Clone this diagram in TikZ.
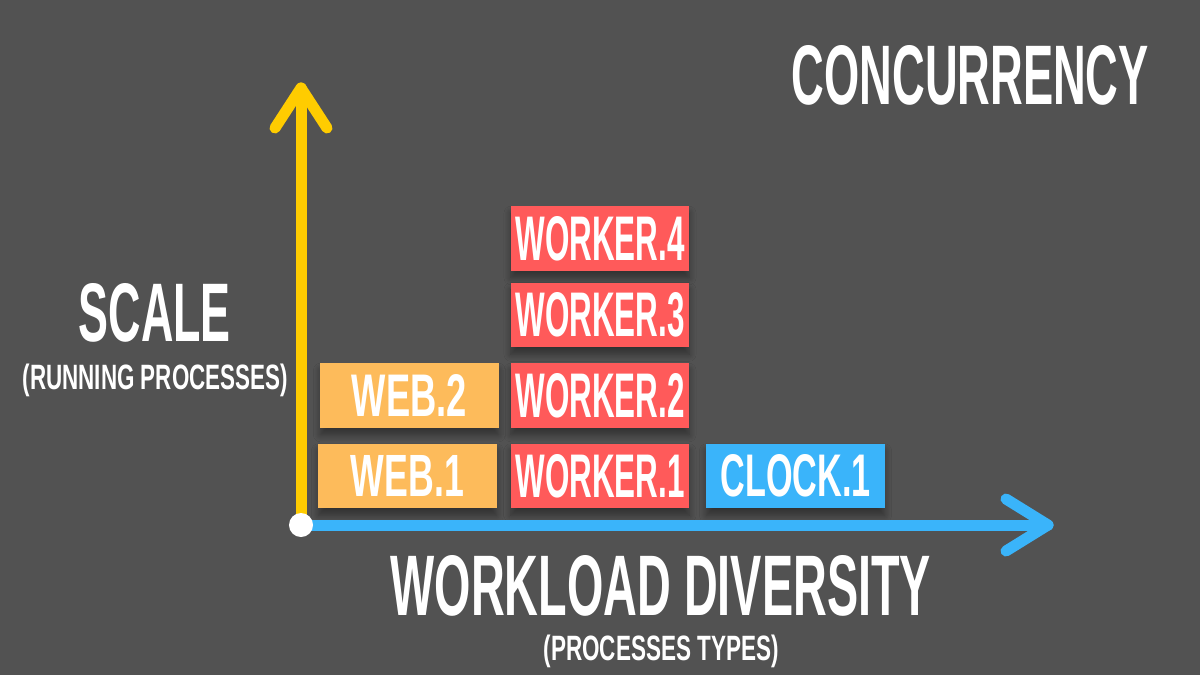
\documentclass[tikz,border=0pt]{standalone}
\usepackage{fontspec}
\setmainfont{Liberation Sans}
\usetikzlibrary{shadows.blur}
\definecolor{bg}{HTML}{525252}
\definecolor{axy}{HTML}{FFCC00}
\definecolor{axb}{HTML}{3AB4FA}
\definecolor{weborange}{HTML}{FDBB5B}
\definecolor{workred}{HTML}{FF5A5A}
\definecolor{clockblue}{HTML}{3AB4FA}
\newcommand\fitt[3]{\resizebox{#1cm}{#2cm}{\bfseries #3}}
\tikzset{
  procbox/.style={rectangle, inner sep=0pt, minimum width=1.78cm, minimum height=0.645cm,
    text=white, blur shadow={shadow xshift=0pt, shadow yshift=-0.07cm, shadow blur steps=8, shadow opacity=40, shadow blur radius=0.07cm}},
  label/.style={inner sep=0pt, text=white, anchor=north west},
  axisline/.style={line width=0.11cm, line cap=round, line join=round}
}
\begin{document}
\begin{tikzpicture}[x=0.01cm, y=-0.01cm]
\fill[bg] (0,0) rectangle (1200,675);
\useasboundingbox (0,0) rectangle (1200,675);

% process boxes
\node[procbox, fill=weborange] (web2) at (409.5,395.5) {\fitt{1.15}{0.42}{WEB.2}};
\node[procbox, fill=weborange] (web1) at (407.5,476) {\fitt{1.13}{0.41}{WEB.1}};
\node[procbox, fill=workred] (w4) at (600,238.5) {\fitt{1.69}{0.44}{WORKER.4}};
\node[procbox, fill=workred] (w3) at (600,315) {\fitt{1.69}{0.44}{WORKER.3}};
\node[procbox, fill=workred] (w2) at (600,395.5) {\fitt{1.69}{0.44}{WORKER.2}};
\node[procbox, fill=workred] (w1) at (600,476) {\fitt{1.69}{0.43}{WORKER.1}};
\node[procbox, fill=clockblue] (c1) at (795.5,476) {\fitt{1.50}{0.42}{CLOCK.1}};

% axes
\coordinate (O) at (301,525);
\coordinate (ytip) at (301,88);
\coordinate (yl) at (275,128);
\coordinate (yr) at (327,128);
\coordinate (xtip) at (1048,525);
\coordinate (xu) at (1006,499);
\coordinate (xd) at (1006,551);
\draw[axisline, axy] (O) -- (ytip);
\draw[axisline, axy] (yl) -- (ytip) -- (yr);
\draw[axisline, axb] (O) -- (xtip);
\draw[axisline, axb] (xu) -- (xtip) -- (xd);
\fill[white] (O) circle (0.12cm);

% labels
\node[label] (title) at (791,45) {\fitt{3.57}{0.59}{CONCURRENCY}};
\node[label] (scale) at (78,283) {\fitt{1.52}{0.58}{SCALE}};
\node[label] (scalesub) at (22,363) {\fitt{2.65}{0.255}{(RUNNING PROCESSES)}};
\node[label] (work) at (390,555) {\fitt{5.40}{0.60}{WORKLOAD DIVERSITY}};
\node[label] (worksub) at (543,634) {\fitt{2.35}{0.255}{(PROCESSES TYPES)}};
\end{tikzpicture}
\end{document}
